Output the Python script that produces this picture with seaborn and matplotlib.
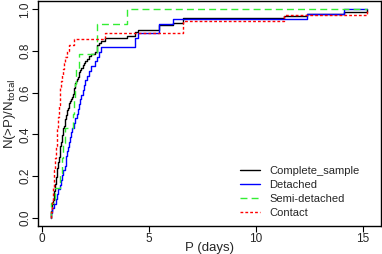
import numpy as np
import pandas as pd
import seaborn as sns
from matplotlib import pyplot as plt
from matplotlib.lines import Line2D

# orbital periods (days)
contact = [0.45, 0.48, 0.5, 0.52, 0.54, 0.56, 0.58, 0.6, 0.62, 0.64, 0.66,
           0.68, 0.7, 0.72, 0.74, 0.76, 0.78, 0.8, 0.82, 0.84, 0.86, 0.88,
           0.9, 0.95, 1.0, 1.05, 1.1, 1.2, 1.3, 1.5, 2.95, 6.6, 6.6, 11.3, 15.2]
semi_detached = [0.45, 0.62, 0.85, 0.95, 1.0, 1.1, 1.45, 1.5, 1.55, 1.6,
                 1.75, 2.6, 2.6, 4.0]
detached = [0.45, 0.5, 0.58, 0.66, 0.72, 0.78, 0.84, 0.9, 0.97, 1.02, 1.07,
            1.12, 1.16, 1.2, 1.24, 1.28, 1.32, 1.36, 1.42, 1.5, 1.58, 1.65,
            1.7, 1.75, 1.8, 1.86, 1.92, 1.98, 2.04, 2.1, 2.2, 2.32, 2.48,
            2.6, 2.7, 2.79, 4.35, 4.35, 4.5, 5.5, 5.5, 6.15, 12.4, 14.1]
complete = contact + semi_detached + detached

groups = ["Complete_sample", "Detached", "Semi-detached", "Contact"]
samples = [complete, detached, semi_detached, contact]
colors = ["black", "#0000ff", "#33ee33", "#ff0000"]
dashes = [None, None, (5, 3), (2, 1.5)]

sns.set_style("ticks")
plt.rcParams["font.family"] = ["Liberation Sans", "DejaVu Sans"]

fig = plt.figure(figsize=(3.82, 2.54), dpi=100)
ax = fig.add_axes([0.0995, 0.11, 0.8975, 0.886])

x_end = max(complete)
handles = []
for name, vals, c, d in zip(groups, samples, colors, dashes):
    p = np.sort(vals)
    n = len(p)
    frac = np.arange(1, n + 1) / n
    xs = np.r_[p[0], p, x_end]
    ys = np.r_[0, frac, 1.0]
    kw = dict(color=c, lw=1.0)
    if d is not None:
        kw["dashes"] = d
    sns.lineplot(x=xs, y=ys, ax=ax, drawstyle="steps-post", estimator=None,
                 sort=False, **kw)
    h = Line2D([], [], color=c, lw=1.0, linestyle="-" if d is None else (0, d))
    handles.append(h)

ax.set_xlim(-0.17, 15.84)
ax.set_ylim(-0.04, 1.04)
ax.set_xticks([0, 5, 10, 15])
ax.set_yticks([0, 0.2, 0.4, 0.6, 0.8, 1.0])
ax.set_yticklabels(["0.0", "0.2", "0.4", "0.6", "0.8", "1.0"],
                   rotation=90, va="center")
ax.tick_params(labelsize=8.5, length=4, width=0.8, color="black", pad=1)
for s in ax.spines.values():
    s.set_visible(True)
    s.set_color("black")
    s.set_linewidth(1.0)

ax.set_xlabel("P (days)", fontsize=9.5)
ax.xaxis.set_label_coords(0.5, -0.072, transform=ax.transAxes)
ax.xaxis.label.set_va("top")
ax.set_ylabel("N(>P)/N$_{\\mathrm{total}}$", fontsize=9.5, labelpad=1)

ax.legend(handles, groups, loc="lower right", frameon=False, fontsize=8,
          handlelength=1.8, handletextpad=0.8, labelspacing=0.35,
          bbox_to_anchor=(0.967, -0.008))

fig.savefig("out.png", dpi=100)
